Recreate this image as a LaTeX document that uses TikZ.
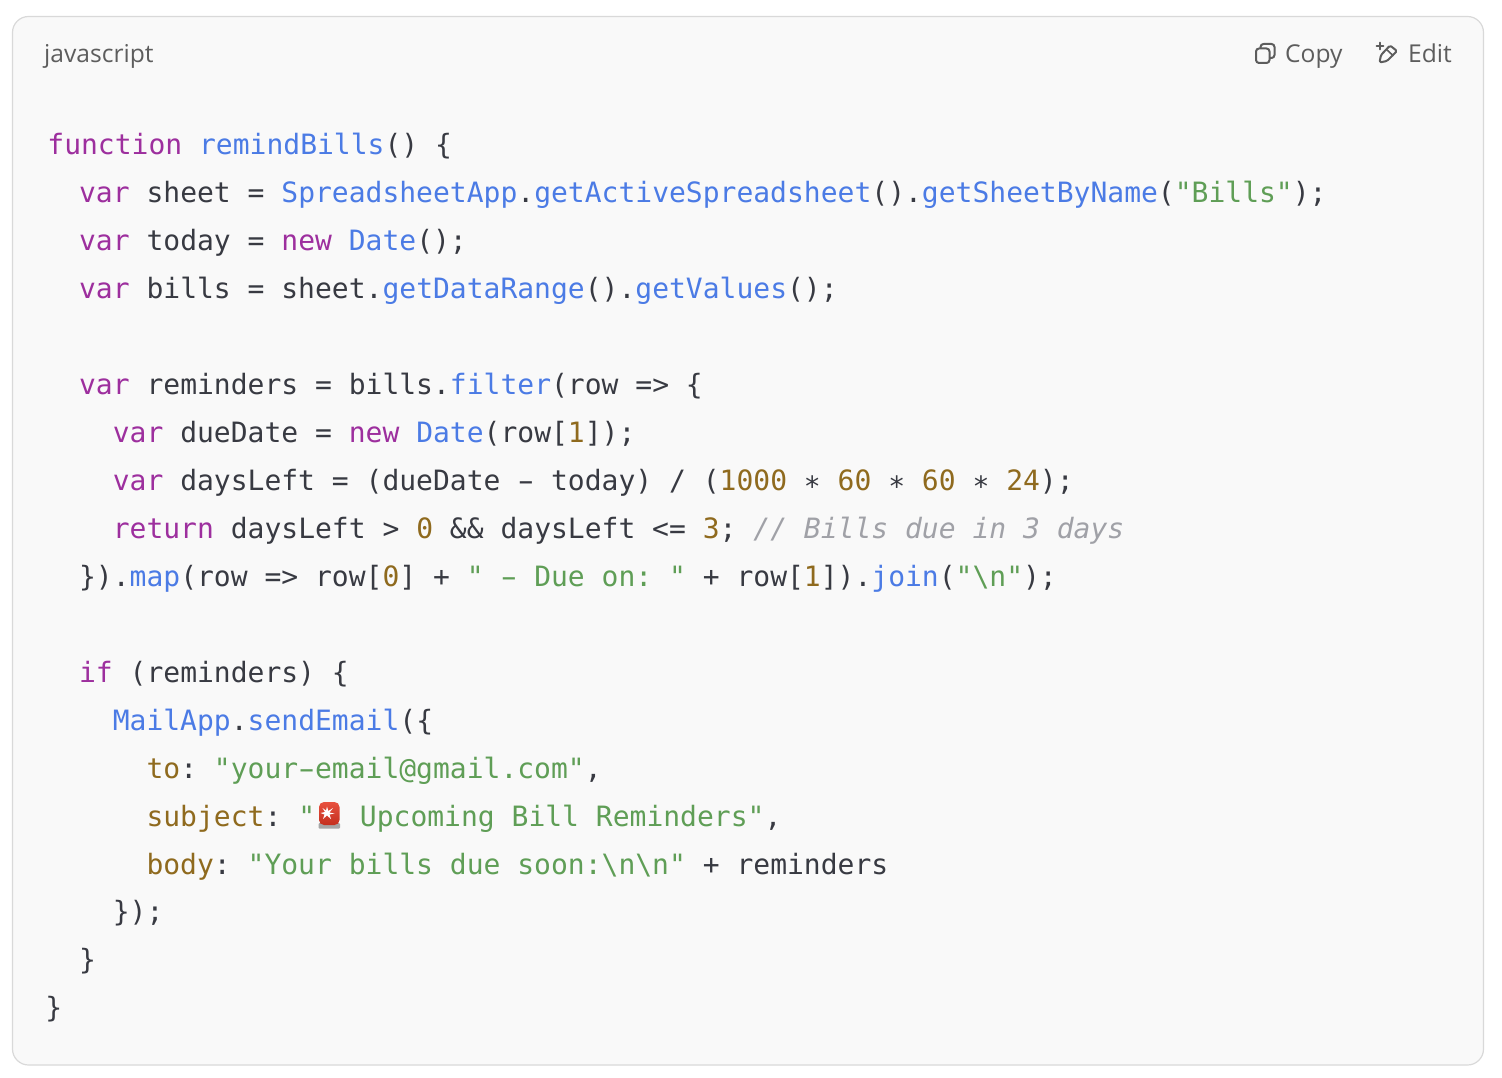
\documentclass[tikz,border=0pt]{standalone}
\usepackage{fontspec}
\setmainfont{Open Sans}
\setmonofont{DejaVu Sans Mono}
\usetikzlibrary{positioning}

\definecolor{panelbg}{HTML}{F9F9F9}
\definecolor{panelline}{HTML}{D9D9D9}
\definecolor{uigrey}{HTML}{5D5D5D}
\definecolor{codeink}{HTML}{383A42}
\definecolor{kwcol}{HTML}{9D2F9E}
\definecolor{fncol}{HTML}{4B7BE5}
\definecolor{strcol}{HTML}{5F9E56}
\definecolor{numcol}{HTML}{8F6A1E}
\definecolor{cmtcol}{HTML}{A0A1A7}
\definecolor{sirentop}{HTML}{E8513F}
\definecolor{sirenlow}{HTML}{C4301F}

\newlength{\cw}
\setlength{\cw}{16.856pt}
\newcommand{\ind}[1]{\hspace*{#1\cw}}
\newcommand{\kw}[1]{\textcolor{kwcol}{#1}}
\newcommand{\fn}[1]{\textcolor{fncol}{#1}}
\newcommand{\strg}[1]{\textcolor{strcol}{#1}}
\newcommand{\nbr}[1]{\textcolor{numcol}{#1}}
\newcommand{\cmt}[1]{\textcolor{cmtcol}{\itshape #1}}
\newcommand{\codestar}{\raisebox{-6pt}{*}}
\newcommand{\codedash}{\makebox[\cw]{\scalebox{1.7}[1]{-}}}

\begin{document}
\begin{tikzpicture}[x=1pt, y=-1pt, node distance=48pt]
    \tikzstyle{codeline} = [rectangle, inner sep=0pt, text width=1420pt, align=flush left, text height=22pt, text depth=7pt, text=codeink, font=\ttfamily\fontsize{28}{28}\selectfont]
    \tikzstyle{uilabel} = [inner sep=0pt, text=uigrey, anchor=base west, font=\fontsize{24.6}{24.6}\selectfont]
    \tikzstyle{uiicon} = [draw=uigrey, line width=2pt, line join=round, line cap=round]

    \useasboundingbox (0,0) rectangle (1502,1078);

    % Panel
    \draw [fill=panelbg, draw=panelline, line width=1.2pt, rounded corners=16pt] (12.5,16.5) rectangle (1483.5,1065);

    % Header
    \node [uilabel] (lang) at (44,63) {javascript};
    \node [uilabel] (copy) at (1285,63) {Copy};
    \node [uilabel] (edit) at (1408,63) {Edit};

    % Copy icon
    \draw [uiicon, rounded corners=3pt] (1256,48.5) rectangle (1269.5,63);
    \draw [uiicon, rounded corners=3pt] (1260.5,48) -- (1260.5,44) -- (1274.5,44) -- (1274.5,58) -- (1270,58);

    % Edit icon
    \draw [uiicon, rounded corners=1.5pt] (1379.5,62.5) -- (1381,55) -- (1390,45.5) -- (1397,51) -- (1387,61) -- cycle;
    \draw [uiicon, line width=1.6pt] (1386.5,49.5) -- (1393,55.5);
    \draw [uiicon, line width=1.6pt] (1380,42.5) -- (1380,49.5) (1376.5,46) -- (1383.5,46);

    % Code
    \node [codeline] (l1) at (755.4,147) {\hspace*{2pt}\kw{function} \fn{remindBills}() \{};
    \node [codeline, below of=l1] (l2) {\ind{2}\kw{var} sheet = \fn{SpreadsheetApp}.\fn{getActiveSpreadsheet}().\fn{getSheetByName}(\strg{"Bills"});};
    \node [codeline, below of=l2] (l3) {\ind{2}\kw{var} today = \kw{new} \fn{Date}();};
    \node [codeline, below of=l3] (l4) {\ind{2}\kw{var} bills = sheet.\fn{getDataRange}().\fn{getValues}();};
    \node [codeline, below of=l4, node distance=96pt] (l5) {\ind{2}\kw{var} reminders = bills.\fn{filter}(row => \{};
    \node [codeline, below of=l5] (l6) {\ind{4}\kw{var} dueDate = \kw{new} \fn{Date}(row[\nbr{1}]);};
    \node [codeline, below of=l6] (l7) {\ind{4}\kw{var} daysLeft = (dueDate \codedash{} today) / (\nbr{1000} \codestar{} \nbr{60} \codestar{} \nbr{60} \codestar{} \nbr{24});};
    \node [codeline, below of=l7] (l8) {\ind{4}\kw{return} daysLeft > \nbr{0} \&\& daysLeft <= \nbr{3}; \cmt{// Bills due in 3 days}};
    \node [codeline, below of=l8] (l9) {\ind{2}\}).\fn{map}(row => row[\nbr{0}] + \strg{" \codedash{} Due on: "} + row[\nbr{1}]).\fn{join}(\strg{"\textbackslash n"});};
    \node [codeline, below of=l9, node distance=96pt] (l10) {\ind{2}\kw{if} (reminders) \{};
    \node [codeline, below of=l10] (l11) {\ind{4}\fn{MailApp}.\fn{sendEmail}(\{};
    \node [codeline, below of=l11] (l12) {\ind{6}\nbr{to}: \strg{"your\codedash{}email@gmail.com"},};
    \node [codeline, below of=l12] (l13) {\ind{6}\nbr{subject}: \strg{"\hspace*{28pt} Upcoming Bill Reminders"},};
    \node [codeline, below of=l13] (l14) {\ind{6}\nbr{body}: \strg{"Your bills due soon:\textbackslash n\textbackslash n"} + reminders};
    \node [codeline, below of=l14, node distance=47pt] (l15) {\ind{4}\});};
    \node [codeline, below of=l15] (l16) {\ind{2}\}};
    \node [codeline, below of=l16] (l17) {\}};

    % Siren
    \fill [black!35, rounded corners=1pt] (318.5,823) rectangle (340,828.5);
    \shade [top color=sirentop, bottom color=sirenlow, rounded corners=5pt] (319,825) -- (319,802) -- (339.5,802) -- (339.5,825) -- cycle;
    \fill [white] (327,806.5) -- (328.3,811) -- (333,808) -- (329.5,812.5) -- (334.5,813.5) -- (329.5,814.5) -- (331,819) -- (327,815.5) -- (323,819) -- (324.5,814.5) -- (320.5,813) -- (325,812) -- (322.5,808) -- (326,810.5) -- cycle;
\end{tikzpicture}
\end{document}
